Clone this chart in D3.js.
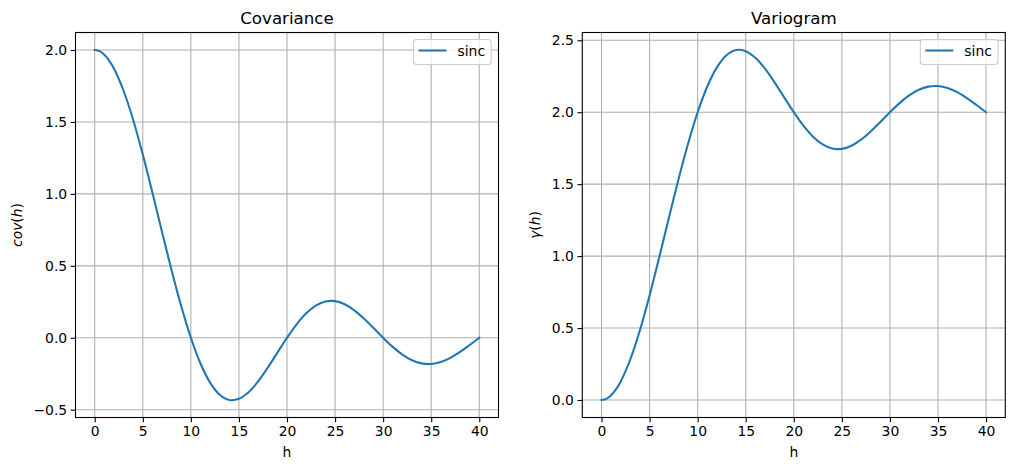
<!DOCTYPE html>
<html><head><meta charset="utf-8">
<script src="https://cdn.jsdelivr.net/npm/d3@7"></script>
<style>body{margin:0;background:#fff}svg{display:block}text{font-family:"DejaVu Sans",sans-serif}</style>
</head><body><svg id="c" width="1014" height="470"></svg>
<script>
const hValues = [0,0.5,1,1.5,2,3,4,5,6,7,8,9,10,11,12,13,14,15,16,17,18,19,20,21,22,23,24,25,26,27,28,29,30,31,32,33,34,35,36,37,38,39,40];
const covValues = [2,1.9918,1.9673,1.9268,1.8710,1.7168,1.5137,1.2732,1.0091,0.7358,0.4677,0.2186,0,-0.1788,-0.3118,-0.3962,-0.4325,-0.4244,-0.3784,-0.3030,-0.2079,-0.1035,0,0.0937,0.1701,0.2239,0.2523,0.2546,0.2329,0.1908,0.1336,0.0678,0,-0.0635,-0.1169,-0.1561,-0.1781,-0.1819,-0.1682,-0.1392,-0.0985,-0.0504,0];
const varioValues = [0,0.0082,0.0327,0.0732,0.1290,0.2832,0.4863,0.7268,0.9909,1.2642,1.5323,1.7814,2,2.1788,2.3118,2.3962,2.4325,2.4244,2.3784,2.3030,2.2079,2.1035,2,1.9063,1.8299,1.7761,1.7477,1.7454,1.7671,1.8092,1.8664,1.9322,2,2.0635,2.1169,2.1561,2.1781,2.1819,2.1682,2.1392,2.0985,2.0504,2.0];
const xTicks = [0,5,10,15,20,25,30,35,40];
const covTicks = [-0.5,0,0.5,1.0,1.5,2.0];
const varioTicks = [0,0.5,1.0,1.5,2.0,2.5];
const seriesName = "sinc";

const svg = d3.select("#c");
const fmt = v => (v < 0 ? "\u2212" : "") + Math.abs(v).toFixed(1);

function panel(opts) {
  const {left, top, width, height, values, ticks, title, ylab, ylabX} = opts;
  const g = svg.append("g");
  const x = d3.scaleLinear().domain([-2, 42]).range([left, left + width]);
  const ext = d3.extent(values);
  const pad = (ext[1] - ext[0]) * 0.05;
  const y = d3.scaleLinear().domain([ext[0] - pad, ext[1] + pad]).range([top + height, top]);

  g.append("g").selectAll("line").data(xTicks).join("line")
    .attr("x1", d => x(d)).attr("x2", d => x(d)).attr("y1", top).attr("y2", top + height)
    .attr("stroke", "#b0b0b0").attr("stroke-width", 1.1);
  g.append("g").selectAll("line").data(ticks).join("line")
    .attr("y1", d => y(d)).attr("y2", d => y(d)).attr("x1", left).attr("x2", left + width)
    .attr("stroke", "#b0b0b0").attr("stroke-width", 1.1);

  const line = d3.line().x((d, i) => x(hValues[i])).y(d => y(d)).curve(d3.curveCatmullRom.alpha(0.5));
  g.append("path").datum(values).attr("d", line).attr("fill", "none")
    .attr("stroke", "#1f77b4").attr("stroke-width", 2.08).attr("stroke-linecap", "square");

  const xa = g.append("g").attr("transform", `translate(0,${top + height})`)
    .call(d3.axisBottom(x).tickValues(xTicks).tickSize(4.86).tickPadding(3.5).tickFormat(d3.format("d")));
  const ya = g.append("g").attr("transform", `translate(${left},0)`)
    .call(d3.axisLeft(y).tickValues(ticks).tickSize(4.86).tickPadding(3.5).tickFormat(fmt));
  [xa, ya].forEach(a => {
    a.select(".domain").remove();
    a.selectAll("line").attr("stroke", "#000").attr("stroke-width", 1.1);
    a.selectAll("text").attr("font-size", "13.9px").attr("fill", "#000").attr("font-family", "DejaVu Sans");
  });
  g.append("rect").attr("x", left).attr("y", top).attr("width", width).attr("height", height)
    .attr("fill", "none").attr("stroke", "#000").attr("stroke-width", 1.1);

  g.append("text").attr("x", left + width / 2).attr("y", top - 8.5).attr("text-anchor", "middle")
    .attr("font-size", "16.67px").text(title);
  g.append("text").attr("x", left + width / 2).attr("y", 456.5).attr("text-anchor", "middle")
    .attr("font-size", "13.9px").text("h");
  const yl = g.append("text").attr("transform", `translate(${ylabX},${top + height / 2}) rotate(-90)`)
    .attr("text-anchor", "middle").attr("font-size", "13.9px");
  ylab.forEach(p => yl.append("tspan").attr("font-style", p[1] ? "italic" : "normal").text(p[0]));

  const lx = left + width - 85, ly = top + 7;
  g.append("rect").attr("x", lx).attr("y", ly).attr("width", 77.7).attr("height", 25)
    .attr("rx", 3).attr("fill", "#fff").attr("fill-opacity", 0.8).attr("stroke", "#cccccc").attr("stroke-width", 1.1);
  g.append("line").attr("x1", lx + 5).attr("x2", lx + 33).attr("y1", ly + 11).attr("y2", ly + 11)
    .attr("stroke", "#1f77b4").attr("stroke-width", 2.08);
  g.append("text").attr("x", lx + 44).attr("y", ly + 16).attr("font-size", "13.9px").text(seriesName);
}

panel({left: 75.5, top: 32.5, width: 423, height: 385, values: covValues, ticks: covTicks,
  title: "Covariance", ylab: [["cov", true], ["(", false], ["h", true], [")", false]], ylabX: 22});
panel({left: 582.3, top: 32.5, width: 423, height: 385, values: varioValues, ticks: varioTicks,
  title: "Variogram", ylab: [["\u03b3", true], ["(", false], ["h", true], [")", false]], ylabX: 540});
</script></body></html>
